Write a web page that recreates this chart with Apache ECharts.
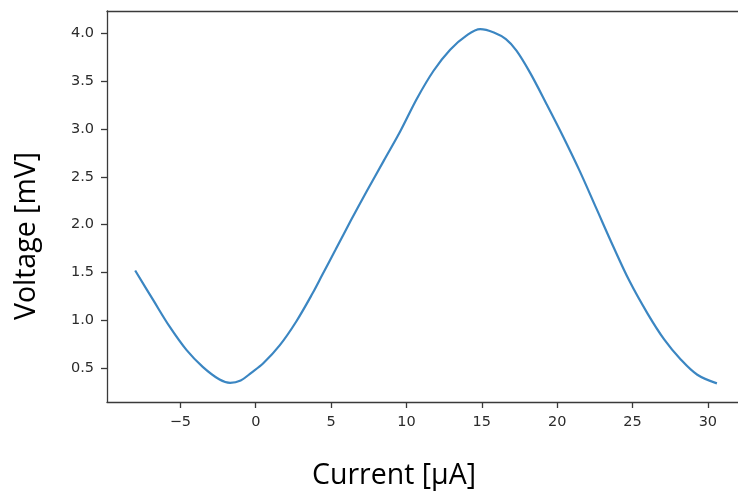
<!DOCTYPE html>
<html>
<head>
<meta charset="utf-8">
<script src="https://cdn.jsdelivr.net/npm/echarts@6/dist/echarts.min.js"></script>
<style>
  html, body { margin: 0; padding: 0; background: #fff; }
  #chart { width: 738px; height: 493px; }
</style>
</head>
<body>
<div id="chart"></div>
<script>
// Measured sweep: bias current (µA) and the resulting voltage (mV)
const currentUA = [-8.0, -6.8, -5.7, -4.6, -3.5, -2.4, -1.7, -1.0, -0.3, 0.5, 1.6, 2.7, 3.8, 4.4,
  5.3, 6.3, 7.4, 8.5, 9.6, 10.7, 11.8, 12.9, 14.0, 14.9, 15.8, 16.6, 17.3, 18.2, 19.3, 20.4,
  21.5, 22.6, 23.7, 24.8, 26.0, 27.1, 28.2, 29.3, 30.6];
const voltageMV = [1.52, 1.21, 0.93, 0.69, 0.51, 0.38, 0.345, 0.37, 0.45, 0.55, 0.74, 0.99, 1.29, 1.47,
  1.74, 2.04, 2.36, 2.67, 2.98, 3.32, 3.61, 3.83, 3.98, 4.045, 4.01, 3.94, 3.82, 3.59, 3.26, 2.92,
  2.56, 2.17, 1.78, 1.41, 1.07, 0.80, 0.59, 0.43, 0.34];

const xTicks = [-5, 0, 5, 10, 15, 20, 25, 30];
const yTicks = [0.5, 1.0, 1.5, 2.0, 2.5, 3.0, 3.5, 4.0];

const xLabel = 'Current [µA]';
const yLabel = 'Voltage [mV]';

const points = currentUA.map((c, i) => [c, voltageMV[i]]);

const tickFont = { fontFamily: 'DejaVu Sans', fontSize: 14.5, color: '#2b2b2b' };
const frameColor = '#3a3a3a';
const titleFont = '28.5px "Open Sans", Lato, sans-serif';

const chart = echarts.init(document.getElementById('chart'), null, { renderer: 'canvas' });
chart.setOption({
  animation: false,
  backgroundColor: '#ffffff',
  grid: {
    left: 107, top: 11, right: 0, bottom: 91,
    show: false
  },
  xAxis: [{
    type: 'value',
    position: 'bottom',
    min: -9.87, max: 32.0,
    axisLine: { show: true, onZero: false, lineStyle: { color: frameColor, width: 1.3 } },
    splitLine: { show: false },
    axisTick: { show: true, customValues: xTicks, length: 6, lineStyle: { color: frameColor, width: 1.3 } },
    axisLabel: Object.assign({
      customValues: xTicks, margin: 13,
      formatter: v => String(v).replace('-', '\u2212')
    }, tickFont)
  }, {
    type: 'value',
    position: 'top',
    min: -9.87, max: 32.0,
    axisLine: { show: true, onZero: false, lineStyle: { color: frameColor, width: 1.3 } },
    splitLine: { show: false },
    axisTick: { show: false },
    axisLabel: { show: false }
  }],
  yAxis: {
    type: 'value',
    min: 0.145, max: 4.235,
    axisLine: { show: true, onZero: false, lineStyle: { color: frameColor, width: 1.3 } },
    splitLine: { show: false },
    axisTick: { show: true, customValues: yTicks, length: 6, lineStyle: { color: frameColor, width: 1.3 } },
    axisLabel: Object.assign({
      customValues: yTicks, margin: 13,
      formatter: v => Number(v).toFixed(1)
    }, tickFont)
  },
  series: [{
    type: 'line',
    data: points,
    smooth: 0.35,
    showSymbol: false,
    lineStyle: { color: '#3b86c2', width: 2.2 }
  }],
  graphic: [
    {
      type: 'text',
      x: 394, y: 476,
      style: { text: xLabel, align: 'center', verticalAlign: 'middle', font: titleFont, fill: '#000' }
    },
    {
      type: 'text',
      x: 27, y: 236, rotation: Math.PI / 2,
      style: { text: yLabel, align: 'center', verticalAlign: 'middle', font: titleFont, fill: '#000' }
    }
  ]
});
</script>
</body>
</html>
